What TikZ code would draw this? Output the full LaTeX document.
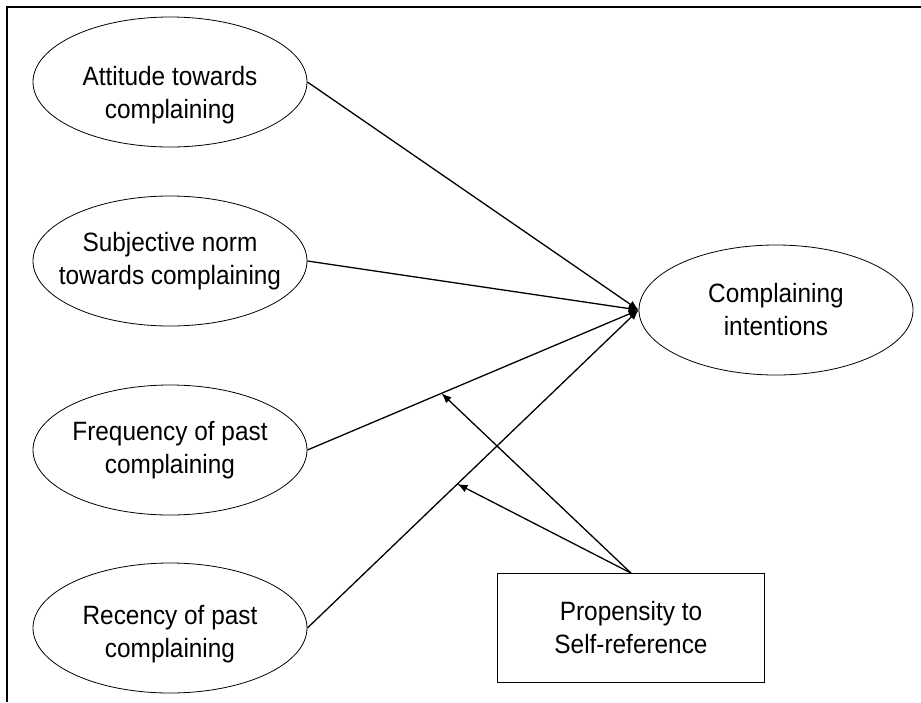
\documentclass[tikz,border=0pt]{standalone}
\usepackage{fontspec}
\setmainfont[FakeStretch=0.92]{Liberation Sans}
\usetikzlibrary{shapes.geometric}
\usetikzlibrary{arrows.meta}

\tikzset{
  construct/.style={ellipse, draw, line width=0.8pt, minimum width=274pt, minimum height=130pt, inner sep=0pt},
  caption/.style={align=center, font=\fontsize{26.5}{33}\selectfont},
  link/.style={line width=1.3pt, -{Latex[length=10pt, width=8pt]}}
}

\begin{document}
\begin{tikzpicture}[x=1pt, y=-1pt]
    \useasboundingbox (0, 0) rectangle (921, 702);
    \draw[line width=2pt] (7, 702) -- (7, 7) -- (921, 7);

    \node[construct, label={[caption, yshift=-13pt]center:Attitude towards\\complaining}] (att) at (170, 82) {};
    \node[construct, label={[caption]center:Subjective norm\\towards complaining}] (norm) at (170, 261) {};
    \node[construct, label={[caption]center:Frequency of past\\complaining}] (freq) at (170, 450) {};
    \node[construct, label={[caption, yshift=-6pt]center:Recency of past\\complaining}] (rec) at (170, 628) {};

    \node[construct, label={[caption]center:Complaining\\intentions}] (ci) at (776, 310) {};

    \node[draw, line width=0.8pt, minimum width=267pt, minimum height=109pt, caption] (self) at (631, 628) {Propensity to\\Self-reference};

    \draw[link] (att.east) -- (ci.west);
    \draw[link] (norm.east) -- (ci.west);
    \draw[link] (freq.east) -- coordinate[pos=0.405] (freqmod) (ci.west);
    \draw[link] (rec.east) -- coordinate[pos=0.453] (recmod) (ci.west);

    \draw[link] (self.north) -- (freqmod);
    \draw[link] (self.north) -- (recmod);
  \end{tikzpicture}
\end{document}
